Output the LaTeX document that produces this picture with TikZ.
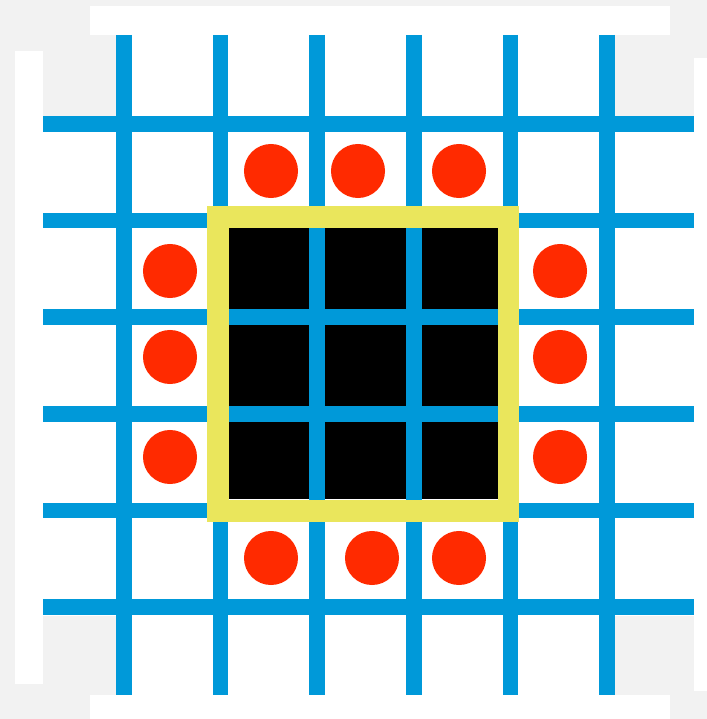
\documentclass[tikz,border=0pt]{standalone}
\definecolor{gridBlue}{RGB}{0,153,217}
\definecolor{dotRed}{RGB}{255,42,0}
\definecolor{frameYellow}{RGB}{234,230,92}
\definecolor{paperGray}{RGB}{242,242,242}
\begin{document}
\begin{tikzpicture}[
  x=0.01cm,
  y=-0.01cm,
  gridline/.style={
    draw=gridBlue,
    line width=0.155cm
  },
  token/.style={
    circle,
    fill=dotRed,
    minimum size=0.54cm,
    inner sep=0pt
  }
]
  \fill[paperGray] (0,0) rectangle (707,719);
  \useasboundingbox (0,0) rectangle (707,719);
  % white sheets behind the board
  \fill[white] (90,6) rectangle (670,35);
  \fill[white] (15,51) rectangle (43,684);
  \fill[white] (90,695) rectangle (670,719);
  \fill[white] (694,58) rectangle (707,691);
  \fill[white] (43,116) rectangle (694,616);
  \fill[white] (117,35) rectangle (614,695);
  % occupied block
  \fill[black] (229,228) rectangle (498,499);
  % grid
  \foreach \k in {0,...,5} {
    \pgfmathsetmacro\p{124+96.6*\k}
    \draw[gridline] (\p,35) -- (\p,695);
    \draw[gridline] (43,\p) -- (694,\p);
  }
  % frame around the block
  \draw[frameYellow,line width=0.21cm] (218,217) rectangle (508,511);
  % neighbours
  \foreach \x/\y [count=\i] in {271/171,358/171,459/171,271/558,372/558,459/558,
                                170/271,170/357,170/457,560/271,560/357,560/457}
    \node[token] (dot\i) at (\x,\y) {};
\end{tikzpicture}
\end{document}
